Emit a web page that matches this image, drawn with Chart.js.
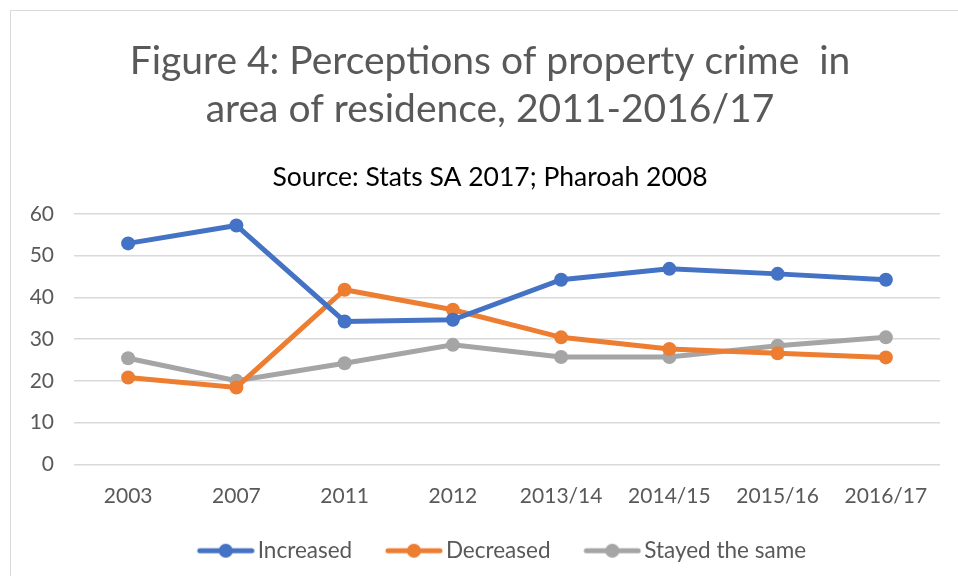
<!DOCTYPE html>
<html>
<head>
<meta charset="utf-8">
<script src="https://cdn.jsdelivr.net/npm/chart.js@4"></script>
<style>
  html, body { margin: 0; padding: 0; background: #fff; overflow: hidden; }
  #wrap { position: relative; width: 958px; height: 576px; }
  #frame { position: absolute; left: 10px; top: 10px; width: 1000px; height: 700px; border: 1px solid #d9d9d9; box-sizing: border-box; }
  #grafico { position: absolute; left: 0; top: 0; }
</style>
</head>
<body>
<div id="wrap">
  <div id="frame"></div>
  <canvas id="grafico" width="958" height="576"></canvas>
</div>
<script>
const categorias = ['2003', '2007', '2011', '2012', '2013/14', '2014/15', '2015/16', '2016/17'];
const aumentou = [52.9, 57.2, 34.2, 34.6, 44.2, 46.8, 45.6, 44.2];
const diminuiu = [20.8, 18.4, 41.8, 37.0, 30.4, 27.6, 26.6, 25.6];
const igual = [25.4, 20.0, 24.2, 28.6, 25.7, 25.7, 28.4, 30.4];
const ticksY = [0, 10, 20, 30, 40, 50, 60];

const FONTE = 'Lato, "Liberation Sans", sans-serif';
const cinzaTexto = '#595959';

// marcador da legenda: linha com bolinha (com folga transparente à esquerda)
const FOLGA = 31;
function marcador(cor) {
  const c = document.createElement('canvas');
  c.width = 58 + FOLGA; c.height = 16;
  const g = c.getContext('2d');
  g.strokeStyle = cor; g.lineWidth = 5; g.lineCap = 'round';
  g.beginPath(); g.moveTo(FOLGA + 3, 8); g.lineTo(FOLGA + 55, 8); g.stroke();
  g.fillStyle = cor;
  g.beginPath(); g.arc(FOLGA + 29, 8, 7, 0, Math.PI * 2); g.fill();
  return c;
}

function serie(nome, dados, cor) {
  return {
    label: nome,
    data: dados,
    borderColor: cor,
    backgroundColor: cor,
    borderWidth: 5,
    pointRadius: 7,
    pointHoverRadius: 7,
    pointBorderWidth: 0,
    tension: 0,
    legendaImg: marcador(cor)
  };
}

new Chart(document.getElementById('grafico'), {
  type: 'line',
  data: {
    labels: categorias,
    datasets: [
      serie('Increased', aumentou, '#4472c4'),
      serie('Decreased', diminuiu, '#ed7d31'),
      serie('Stayed the same', igual, '#a5a5a5')
    ]
  },
  options: {
    responsive: false,
    animation: false,
    // a moldura original continua para a direita, por isso o título fica deslocado
    layout: { padding: { left: 12, right: -10, top: 0, bottom: 4 } },
    plugins: {
      title: {
        display: true,
        text: ['Figure 4: Perceptions of property crime  in', 'area of residence, 2011-2016/17'],
        color: cinzaTexto,
        font: { family: FONTE, size: 39, weight: 'normal', lineHeight: 1.23 },
        padding: { top: 37, bottom: 0 }
      },
      subtitle: {
        display: true,
        text: 'Source: Stats SA 2017; Pharoah 2008',
        color: '#000',
        font: { family: FONTE, size: 26.5, weight: 'normal', lineHeight: 1.2 },
        padding: { top: 29, bottom: 20 }
      },
      legend: {
        position: 'bottom',
        labels: {
          usePointStyle: true,
          pointStyleWidth: 72.5,
          color: cinzaTexto,
          font: { family: FONTE, size: 22.5 },
          padding: 10,
          generateLabels(chart) {
            return chart.data.datasets.map((d, i) => ({
              text: d.label,
              fontColor: cinzaTexto,
              pointStyle: d.legendaImg,
              datasetIndex: i,
              hidden: false,
              lineWidth: 0
            }));
          }
        }
      },
      tooltip: { enabled: false }
    },
    scales: {
      x: {
        offset: true,
        afterFit(axis) { axis.height += 10; },
        grid: { display: false },
        border: { display: false },
        ticks: { color: cinzaTexto, font: { family: FONTE, size: 21 }, padding: 11, maxRotation: 0 }
      },
      y: {
        min: 0,
        max: 60,
        afterBuildTicks(axis) { axis.ticks = ticksY.map(v => ({ value: v })); },
        afterFit(axis) { axis.width = 62; },
        grid: { color: '#d9d9d9', lineWidth: 1.5, drawTicks: false },
        border: { display: false },
        ticks: { color: cinzaTexto, font: { family: FONTE, size: 21 }, padding: 20 }
      },
      // eixo vazio só para reservar a margem direita
      margemDir: {
        type: 'linear',
        position: 'right',
        afterFit(axis) { axis.width = 28; },
        grid: { display: false },
        border: { display: false },
        ticks: { display: false }
      }
    }
  }
});
</script>
</body>
</html>
